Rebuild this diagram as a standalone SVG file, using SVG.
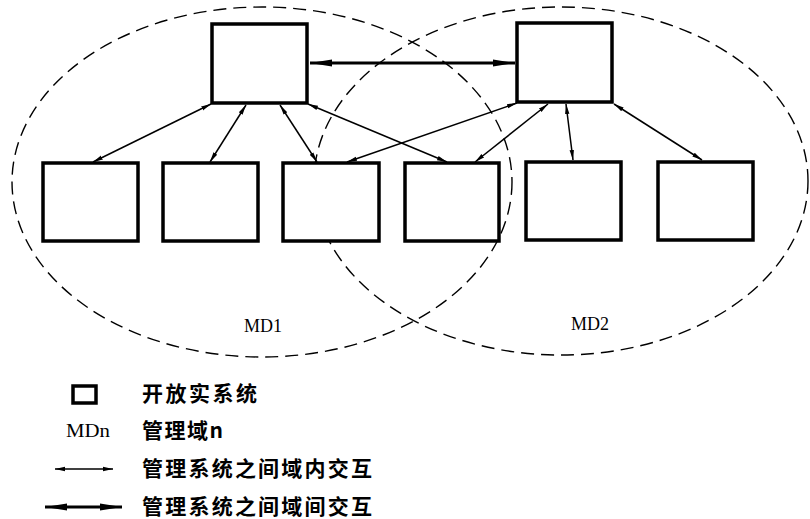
<svg xmlns="http://www.w3.org/2000/svg" width="810" height="519" viewBox="0 0 810 519">
<defs>
<marker id="a" viewBox="0 0 10 6" refX="10" refY="3" markerWidth="10" markerHeight="6" markerUnits="userSpaceOnUse" orient="auto-start-reverse"><path d="M0,0.8 L10,3 L0,5.2 Z" fill="#000"/></marker>
<marker id="A" viewBox="0 0 22 8" refX="22" refY="4" markerWidth="22" markerHeight="8" markerUnits="userSpaceOnUse" orient="auto-start-reverse"><path d="M0,0.5 L22,4 L0,7.5 Z" fill="#000"/></marker>
<style>
.box{fill:#fff;stroke:#000;stroke-width:3.5}
.dom{fill:none;stroke:#000;stroke-width:1.4;stroke-dasharray:13 7}
.thin{stroke:#000;stroke-width:1.5;fill:none;marker-start:url(#a);marker-end:url(#a)}
.thick{stroke:#000;stroke-width:3;fill:none;marker-start:url(#A);marker-end:url(#A)}
.lbl{font-family:"Liberation Serif","DejaVu Serif",serif;font-size:18px;fill:#000}
.cn{font-family:"Noto Sans CJK SC",sans-serif;font-size:21px;font-weight:bold;fill:#000}
</style>
</defs>
<g id="domains">
<ellipse class="dom" cx="262" cy="182" rx="250" ry="175"/>
<ellipse class="dom" cx="561" cy="181" rx="247" ry="174"/>
<text class="lbl" x="263" y="332" text-anchor="middle">MD1</text>
<text class="lbl" x="590" y="330" text-anchor="middle">MD2</text>
</g>
<g id="connectors">
<line class="thick" x1="310" y1="63" x2="515" y2="63"/>
<line class="thin" x1="211" y1="104" x2="93" y2="162"/>
<line class="thin" x1="246" y1="105" x2="210" y2="162"/>
<line class="thin" x1="280" y1="105" x2="317" y2="162"/>
<line class="thin" x1="308" y1="104" x2="447" y2="162"/>
<line class="thin" x1="517" y1="103" x2="347" y2="162"/>
<line class="thin" x1="548" y1="104" x2="475" y2="162"/>
<line class="thin" x1="566" y1="104" x2="573" y2="160"/>
<line class="thin" x1="614" y1="104" x2="702" y2="160"/>
</g>
<g id="mgr1"><rect class="box" x="212" y="24" width="95" height="79"/></g>
<g id="mgr2"><rect class="box" x="517" y="23" width="95" height="79"/></g>
<g id="n1"><rect class="box" x="43" y="163" width="95" height="78"/></g>
<g id="n2"><rect class="box" x="163" y="163" width="95" height="78"/></g>
<g id="n3"><rect class="box" x="283" y="163" width="96" height="78"/></g>
<g id="n4"><rect class="box" x="405" y="163" width="94" height="78"/></g>
<g id="n5"><rect class="box" x="526" y="162" width="95" height="78"/></g>
<g id="n6"><rect class="box" x="658" y="162" width="95" height="78"/></g>
<g id="legend">
<rect x="73" y="386" width="23" height="17" fill="#fff" stroke="#000" stroke-width="3.5"/>
<text class="cn" x="142" y="401" textLength="115" lengthAdjust="spacing">开放实系统</text>
<text class="lbl" x="66" y="437" textLength="44" lengthAdjust="spacingAndGlyphs">MDn</text>
<text class="cn" x="142" y="438" textLength="81" lengthAdjust="spacing">管理域n</text>
<line class="thin" x1="55" y1="469" x2="113" y2="469"/>
<text class="cn" x="142" y="476" textLength="230" lengthAdjust="spacing">管理系统之间域内交互</text>
<line class="thick" x1="45" y1="507" x2="122" y2="507"/>
<text class="cn" x="142" y="514" textLength="230" lengthAdjust="spacing">管理系统之间域间交互</text>
</g>
</svg>
